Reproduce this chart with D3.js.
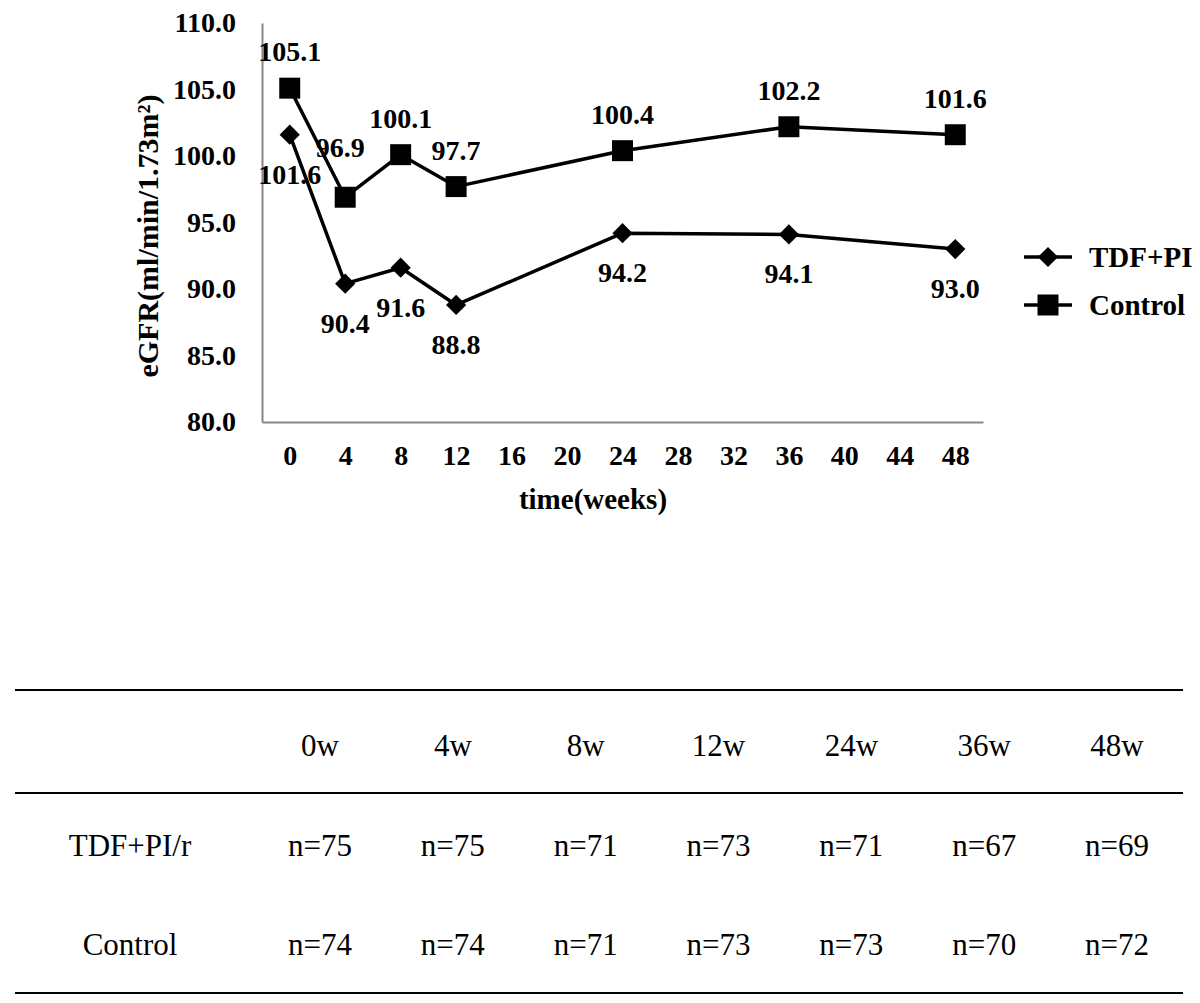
<!DOCTYPE html>
<html>
<head>
<meta charset="utf-8">
<script src="https://cdn.jsdelivr.net/npm/d3@7"></script>
<style>
  html, body { margin: 0; padding: 0; background: #fff; }
  svg { display: block; }
</style>
</head>
<body>
<svg id="chart" width="1200" height="1003" font-family="Liberation Serif"></svg>
<script>
// ---------- data ----------
const weeks = [0, 4, 8, 12, 24, 36, 48];
const tdfValues = [101.6, 90.4, 91.6, 88.8, 94.2, 94.1, 93.0];
const controlValues = [105.1, 96.9, 100.1, 97.7, 100.4, 102.2, 101.6];
const seriesNames = ["TDF+PI", "Control"];
const yTicks = [80, 85, 90, 95, 100, 105, 110];
const xTicks = [0, 4, 8, 12, 16, 20, 24, 28, 32, 36, 40, 44, 48];

const tableHeaders = ["0w", "4w", "8w", "12w", "24w", "36w", "48w"];
const tableRowNames = ["TDF+PI/r", "Control"];
const tdfCounts = [75, 75, 71, 73, 71, 67, 69];
const controlCounts = [74, 74, 71, 73, 73, 70, 72];

// ---------- layout ----------
const FONT = "Liberation Serif";
const svg = d3.select("#chart");
const x = d3.scaleLinear().domain([-2, 50]).range([262, 983]);
const y = d3.scaleLinear().domain([80, 110]).range([422, 23]);
const axisColor = "#868686";

// y axis
const gy = svg.append("g").attr("transform", `translate(${x.range()[0]},0)`)
  .call(d3.axisLeft(y).tickValues(yTicks).tickFormat(d3.format(".1f")).tickSize(0).tickPadding(26));
gy.attr("font-family", FONT);
gy.select(".domain").attr("stroke", axisColor).attr("stroke-width", 2);
gy.selectAll("text").attr("font-family", FONT).attr("font-size", 28)
  .attr("font-weight", "bold").attr("fill", "#000");

// x axis
const gx = svg.append("g").attr("transform", `translate(0,${y.range()[0]})`)
  .call(d3.axisBottom(x).tickValues(xTicks).tickSize(0).tickSizeOuter(0));
gx.attr("font-family", FONT);
gx.select(".domain").attr("stroke", axisColor).attr("stroke-width", 2);
gx.selectAll("text").attr("y", 43).attr("dy", null)
  .attr("font-family", FONT).attr("font-size", 28)
  .attr("font-weight", "bold").attr("fill", "#000");

// axis titles
svg.append("text").attr("x", 593).attr("y", 509).attr("text-anchor", "middle")
  .attr("font-family", FONT).attr("font-size", 29).attr("font-weight", "bold").text("time(weeks)");
svg.append("text").attr("transform", "translate(158,236) rotate(-90)")
  .attr("font-family", FONT).attr("text-anchor", "middle").attr("font-size", 30).attr("font-weight", "bold")
  .text("eGFR(ml/min/1.73m²)");

// lines
const line = d3.line().x((d, i) => x(weeks[i])).y(d => y(d));
[tdfValues, controlValues].forEach(vals => {
  svg.append("path").datum(vals).attr("d", line)
    .attr("fill", "none").attr("stroke", "#000").attr("stroke-width", 3.5)
    .attr("stroke-linejoin", "round");
});

const diamond = d3.symbol().type(d3.symbolDiamond2).size(260);
const square = d3.symbol().type(d3.symbolSquare).size(440);

svg.append("g").selectAll("path").data(tdfValues).join("path")
  .attr("transform", (d, i) => `translate(${x(weeks[i])},${y(d)})`)
  .attr("d", diamond).attr("fill", "#000");
svg.append("g").selectAll("path").data(controlValues).join("path")
  .attr("transform", (d, i) => `translate(${x(weeks[i])},${y(d)})`)
  .attr("d", square).attr("fill", "#000");

// data labels
const fmt = d3.format(".1f");
svg.append("g").selectAll("text").data(tdfValues).join("text")
  .attr("x", (d, i) => x(weeks[i]))
  .attr("y", d => y(d) + 49)
  .attr("font-family", FONT).attr("text-anchor", "middle").attr("font-size", 28).attr("font-weight", "bold")
  .text(d => fmt(d));
const ctrlExtraDy = [0, -13, 0, 0, 0, 0, 0];
const ctrlExtraDx = [0, -5, 0, 0, 0, 0, 0];
svg.append("g").selectAll("text").data(controlValues).join("text")
  .attr("x", (d, i) => x(weeks[i]) + ctrlExtraDx[i])
  .attr("y", (d, i) => y(d) - 27 + ctrlExtraDy[i])
  .attr("font-family", FONT).attr("text-anchor", "middle").attr("font-size", 28).attr("font-weight", "bold")
  .text(d => fmt(d));

// legend
const legendY = d3.scalePoint().domain(seriesNames).range([257, 305]);
const lg = svg.append("g");
seriesNames.forEach((name, i) => {
  const ly = legendY(name);
  lg.append("line").attr("x1", 1024).attr("x2", 1072).attr("y1", ly).attr("y2", ly)
    .attr("stroke", "#000").attr("stroke-width", 3.5);
  lg.append("path").attr("transform", `translate(1048,${ly})`)
    .attr("d", i === 0 ? diamond : square).attr("fill", "#000");
  lg.append("text").attr("x", 1089).attr("y", ly + 10)
    .attr("font-family", FONT).attr("font-size", 29).attr("font-weight", "bold").text(name);
});

// ---------- table ----------
const colX = d3.scalePoint().domain(tableHeaders).range([320, 1117]);
const rowY = d3.scalePoint().domain(["header", ...tableRowNames]).range([756, 955]);
const tg = svg.append("g");
[690, 793, 993].forEach(ly => {
  tg.append("line").attr("x1", 15).attr("x2", 1183).attr("y1", ly).attr("y2", ly)
    .attr("stroke", "#000").attr("stroke-width", 2);
});
tg.selectAll("text.h").data(tableHeaders).join("text").attr("class", "h")
  .attr("x", d => colX(d)).attr("y", rowY("header"))
  .attr("font-family", FONT).attr("text-anchor", "middle").attr("font-size", 31).text(d => d);
[tdfCounts, controlCounts].forEach((counts, r) => {
  const rn = tableRowNames[r];
  tg.append("text").attr("x", 130).attr("y", rowY(rn)).attr("text-anchor", "middle")
    .attr("font-family", FONT).attr("font-size", 31).text(rn);
  tg.selectAll(null).data(counts).join("text")
    .attr("x", (d, i) => colX(tableHeaders[i])).attr("y", rowY(rn))
    .attr("font-family", FONT).attr("text-anchor", "middle").attr("font-size", 31).text(d => "n=" + d);
});
</script>
</body>
</html>
